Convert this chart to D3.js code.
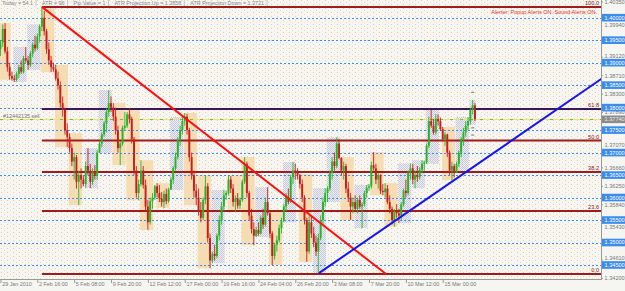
<!DOCTYPE html>
<html><head><meta charset="utf-8">
<script src="https://cdn.jsdelivr.net/npm/d3@7"></script>
<style>
html,body{margin:0;padding:0;background:#f5f5f1;overflow:hidden}
svg{display:block}
text{font-family:"Liberation Sans",Arial,sans-serif}
</style>
</head><body>
<svg id="c" width="625" height="291"></svg>
<script>
// ---------- DATA (4H bars, 29 Jan 2010 04:00 .. 17 Mar 2010 08:00) ----------
const openP=[1.3930,1.3945,1.3975,1.3925,1.3890,1.3870,1.3865,1.3862,1.3875,1.3890,1.3880,1.3910,1.3905,1.3895,1.3920,1.3940,1.3932,1.3958,1.3980,1.4000,
1.3970,1.3930,1.3905,1.3890,1.3885,1.3865,1.3850,1.3810,1.3795,1.3750,1.3735,1.3710,1.3680,1.3690,1.3635,1.3650,1.3640,1.3630,1.3670,1.3660,
1.3635,1.3658,1.3648,1.3700,1.3720,1.3740,1.3765,1.3790,1.3810,1.3800,1.3780,1.3750,1.3710,1.3720,1.3755,1.3760,1.3785,1.3775,1.3730,1.3660,
1.3610,1.3630,1.3660,1.3628,1.3580,1.3545,1.3592,1.3600,1.3625,1.3610,1.3598,1.3590,1.3608,1.3592,1.3618,1.3640,1.3665,1.3690,1.3728,1.3750,
1.3770,1.3780,1.3750,1.3690,1.3650,1.3615,1.3600,1.3570,1.3555,1.3595,1.3625,1.3510,1.3460,1.3475,1.3470,1.3515,1.3550,1.3580,1.3605,1.3610,
1.3640,1.3620,1.3590,1.3598,1.3582,1.3595,1.3635,1.3675,1.3610,1.3560,1.3530,1.3515,1.3528,1.3520,1.3555,1.3540,1.3590,1.3565,1.3520,1.3470,
1.3495,1.3505,1.3532,1.3548,1.3580,1.3600,1.3590,1.3645,1.3660,1.3655,1.3650,1.3630,1.3600,1.3550,1.3480,1.3545,1.3520,1.3500,1.3480,1.3510,
1.3550,1.3590,1.3610,1.3620,1.3655,1.3680,1.3670,1.3720,1.3688,1.3660,1.3670,1.3620,1.3600,1.3580,1.3590,1.3575,1.3595,1.3580,1.3585,1.3610,
1.3622,1.3625,1.3672,1.3665,1.3640,1.3650,1.3615,1.3612,1.3620,1.3590,1.3575,1.3550,1.3570,1.3565,1.3560,1.3585,1.3615,1.3610,1.3655,1.3665,
1.3640,1.3650,1.3645,1.3662,1.3675,1.3678,1.3715,1.3770,1.3760,1.3745,1.3775,1.3770,1.3752,1.3730,1.3740,1.3700,1.3660,1.3670,1.3655,1.3675,
1.3700,1.3730,1.3745,1.3760,1.3770,1.3795,1.3805];
const highP=[1.3950,1.3985,1.3988,1.3935,1.3900,1.3880,1.3872,1.3880,1.3895,1.3905,1.3915,1.3935,1.3915,1.3925,1.3945,1.3960,1.3965,1.3985,1.4024,1.4015,
1.3975,1.3945,1.3915,1.3900,1.3895,1.3880,1.3858,1.3825,1.3800,1.3765,1.3743,1.3720,1.3700,1.3695,1.3660,1.3665,1.3650,1.3680,1.3710,1.3675,
1.3665,1.3672,1.3705,1.3725,1.3745,1.3770,1.3800,1.3839,1.3825,1.3810,1.3800,1.3760,1.3725,1.3760,1.3790,1.3790,1.3799,1.3780,1.3735,1.3670,
1.3640,1.3683,1.3670,1.3640,1.3595,1.3600,1.3610,1.3628,1.3632,1.3628,1.3612,1.3615,1.3620,1.3622,1.3645,1.3670,1.3700,1.3735,1.3760,1.3779,
1.3788,1.3786,1.3755,1.3700,1.3660,1.3630,1.3620,1.3590,1.3600,1.3650,1.3632,1.3520,1.3480,1.3495,1.3520,1.3560,1.3590,1.3617,1.3615,1.3650,
1.3648,1.3630,1.3605,1.3610,1.3600,1.3640,1.3690,1.3680,1.3615,1.3575,1.3545,1.3535,1.3545,1.3560,1.3575,1.3600,1.3623,1.3568,1.3525,1.3500,
1.3515,1.3540,1.3555,1.3585,1.3610,1.3620,1.3650,1.3679,1.3675,1.3665,1.3652,1.3640,1.3605,1.3555,1.3560,1.3560,1.3535,1.3515,1.3520,1.3560,
1.3600,1.3621,1.3625,1.3660,1.3690,1.3700,1.3734,1.3730,1.3690,1.3680,1.3675,1.3635,1.3610,1.3600,1.3605,1.3600,1.3605,1.3590,1.3615,1.3628,
1.3630,1.3680,1.3701,1.3675,1.3655,1.3652,1.3630,1.3632,1.3628,1.3605,1.3580,1.3575,1.3585,1.3575,1.3590,1.3620,1.3640,1.3660,1.3676,1.3675,
1.3660,1.3670,1.3668,1.3683,1.3682,1.3720,1.3780,1.3795,1.3775,1.3785,1.3785,1.3778,1.3757,1.3745,1.3742,1.3705,1.3680,1.3675,1.3680,1.3705,
1.3735,1.3755,1.3770,1.3779,1.3800,1.3817,1.3810];
const lowP=[1.3915,1.3935,1.3920,1.3880,1.3862,1.3860,1.3857,1.3858,1.3866,1.3875,1.3876,1.3900,1.3884,1.3890,1.3912,1.3925,1.3928,1.3945,1.3970,1.3960,
1.3920,1.3895,1.3879,1.3880,1.3860,1.3840,1.3800,1.3780,1.3740,1.3712,1.3700,1.3670,1.3640,1.3620,1.3583,1.3620,1.3625,1.3622,1.3650,1.3621,
1.3628,1.3640,1.3640,1.3699,1.3712,1.3735,1.3745,1.3780,1.3790,1.3770,1.3740,1.3700,1.3672,1.3715,1.3750,1.3755,1.3765,1.3720,1.3650,1.3600,
1.3594,1.3625,1.3620,1.3570,1.3528,1.3540,1.3575,1.3595,1.3600,1.3590,1.3580,1.3577,1.3585,1.3588,1.3617,1.3630,1.3660,1.3685,1.3715,1.3740,
1.3760,1.3740,1.3680,1.3640,1.3600,1.3583,1.3560,1.3545,1.3550,1.3585,1.3500,1.3443,1.3454,1.3460,1.3465,1.3505,1.3540,1.3570,1.3595,1.3605,
1.3610,1.3580,1.3568,1.3575,1.3575,1.3590,1.3630,1.3600,1.3550,1.3520,1.3494,1.3512,1.3515,1.3518,1.3530,1.3535,1.3560,1.3510,1.3450,1.3462,
1.3480,1.3500,1.3520,1.3545,1.3570,1.3585,1.3588,1.3630,1.3640,1.3640,1.3620,1.3590,1.3540,1.3457,1.3475,1.3510,1.3490,1.3470,1.3432,1.3505,
1.3540,1.3580,1.3590,1.3615,1.3640,1.3660,1.3665,1.3685,1.3650,1.3640,1.3610,1.3590,1.3550,1.3565,1.3570,1.3565,1.3575,1.3532,1.3580,1.3600,
1.3615,1.3620,1.3660,1.3630,1.3620,1.3608,1.3605,1.3600,1.3585,1.3565,1.3540,1.3535,1.3555,1.3543,1.3550,1.3580,1.3600,1.3605,1.3640,1.3630,
1.3621,1.3635,1.3640,1.3655,1.3660,1.3675,1.3710,1.3755,1.3740,1.3740,1.3760,1.3748,1.3725,1.3715,1.3690,1.3650,1.3639,1.3645,1.3654,1.3668,
1.3690,1.3715,1.3735,1.3750,1.3762,1.3785,1.3770];
const closeP=[1.3945,1.3975,1.3925,1.3890,1.3870,1.3865,1.3862,1.3875,1.3890,1.3880,1.3910,1.3905,1.3895,1.3920,1.3940,1.3932,1.3958,1.3980,1.4000,1.3970,
1.3930,1.3905,1.3890,1.3885,1.3865,1.3850,1.3810,1.3795,1.3750,1.3735,1.3710,1.3680,1.3690,1.3635,1.3650,1.3640,1.3630,1.3670,1.3660,1.3635,
1.3658,1.3648,1.3700,1.3720,1.3740,1.3765,1.3790,1.3810,1.3800,1.3780,1.3750,1.3710,1.3720,1.3755,1.3760,1.3785,1.3775,1.3730,1.3660,1.3610,
1.3630,1.3660,1.3628,1.3580,1.3545,1.3592,1.3600,1.3625,1.3610,1.3598,1.3590,1.3608,1.3592,1.3618,1.3640,1.3665,1.3690,1.3728,1.3750,1.3770,
1.3780,1.3750,1.3690,1.3650,1.3615,1.3600,1.3570,1.3555,1.3595,1.3625,1.3510,1.3460,1.3475,1.3470,1.3515,1.3550,1.3580,1.3605,1.3610,1.3640,
1.3620,1.3590,1.3598,1.3582,1.3595,1.3635,1.3675,1.3610,1.3560,1.3530,1.3515,1.3528,1.3520,1.3555,1.3540,1.3590,1.3565,1.3520,1.3470,1.3495,
1.3505,1.3532,1.3548,1.3580,1.3600,1.3590,1.3645,1.3660,1.3655,1.3650,1.3630,1.3600,1.3550,1.3480,1.3545,1.3520,1.3500,1.3480,1.3510,1.3550,
1.3590,1.3610,1.3620,1.3655,1.3680,1.3670,1.3720,1.3688,1.3660,1.3670,1.3620,1.3600,1.3580,1.3590,1.3575,1.3595,1.3580,1.3585,1.3610,1.3622,
1.3625,1.3672,1.3665,1.3640,1.3650,1.3615,1.3612,1.3620,1.3590,1.3575,1.3550,1.3570,1.3565,1.3560,1.3585,1.3615,1.3610,1.3655,1.3665,1.3640,
1.3650,1.3645,1.3662,1.3675,1.3678,1.3715,1.3770,1.3760,1.3745,1.3775,1.3770,1.3752,1.3730,1.3740,1.3700,1.3660,1.3670,1.3655,1.3675,1.3700,
1.3730,1.3745,1.3760,1.3770,1.3795,1.3805,1.3774];
// bars per trading day (Fri 29 Jan partial ... Wed 17 Mar partial)
const dayBars=[5,1,6,6,6,6,6,1,6,6,6,6,6,1,6,6,6,6,6,1,6,6,6,6,6,1,6,6,6,6,6,1,6,6,6,6,6,1,6,6,3];
const timeLabels=["29 Jan 2010","2 Feb 16:00","5 Feb 08:00","9 Feb 20:00","12 Feb 12:00","17 Feb 00:00","19 Feb 16:00","24 Feb 04:00","26 Feb 20:00","3 Mar 08:00","7 Mar 20:00","10 Mar 12:00","15 Mar 00:00"];
const timeLabelBars=[0,16,32,48,64,80,96,112,128,144,160,176,192];
// price-scale labels visible in the reference (those fully covered by line labels omitted)
const priceTicks=[1.4035,1.3994,1.3912,1.3871,1.3830,1.3789,1.3707,1.3666,1.3625,1.3584,1.3543,1.3461,1.3420];
const lineLevels=[1.400,1.395,1.390,1.385,1.380,1.375,1.370,1.365,1.360,1.355,1.350,1.345];
const fibLevels=[0,23.6,38.2,50,61.8,100];
const fibHigh=1.4024, fibLow=1.3430, fibStartBar=18;
const orderPrice=1.3774, orderLabel="#12442135 sell";
const downTrend=[{bar:18,price:1.4024},{bar:167.4,price:1.3430}];
const upTrend=[{bar:138.3,price:1.3432},{bar:243,price:1.3801}];
const headerItems=["Today = 54.1","ATR = 96","Pip Value = 1","ATR Projection Up = 1.3858","ATR Projection Down = 1.3721"];
const alertText="Alerter:  Popup Alerts ON.  Sound Alerts ON.";
const markerPrices=[1.3834,1.3755,1.3739];
const markerBar=205;

// ---------- LAYOUT ----------
const W=625,H=291,plotR=601,plotB=279;
const svg=d3.select("#c");
const x=d3.scaleLinear().domain([0,192]).range([0.45,442.7]);
const y=d3.scaleLinear().domain([1.345,1.400]).range([265,17.7]);

const defs=svg.append("defs");
const dots=defs.append("pattern").attr("id","dots").attr("width",6).attr("height",4).attr("patternUnits","userSpaceOnUse");
dots.append("rect").attr("width",6).attr("height",4).attr("fill","#f5f5f1");
dots.append("rect").attr("x",1).attr("y",0).attr("width",1).attr("height",1).attr("fill","#f0c9a0");
dots.append("rect").attr("x",4).attr("y",2).attr("width",1).attr("height",1).attr("fill","#f3d9bd");
const chk=defs.append("pattern").attr("id","chk").attr("width",2).attr("height",2).attr("patternUnits","userSpaceOnUse");
chk.append("rect").attr("width",2).attr("height",2).attr("fill","#ececf3");
chk.append("rect").attr("width",1).attr("height",1).attr("fill","#c9c9da");
chk.append("rect").attr("x",1).attr("y",1).attr("width",1).attr("height",1).attr("fill","#c9c9da");
defs.append("clipPath").attr("id","clip").append("rect").attr("x",0).attr("y",0).attr("width",plotR).attr("height",plotB);

svg.append("rect").attr("width",W).attr("height",H).attr("fill","#f5f5f1");
svg.append("rect").attr("width",plotR).attr("height",plotB).attr("fill","url(#dots)");

const plot=svg.append("g").attr("clip-path","url(#clip)");

// daily range boxes
const days=[];let s=0;
dayBars.forEach(n=>{const e=s+n-1;
  days.push({s,e,hi:d3.max(highP.slice(s,e+1)),lo:d3.min(lowP.slice(s,e+1)),up:closeP[e]>=openP[s]});s+=n;});
plot.selectAll("rect.day").data(days).join("rect").attr("class","day")
  .attr("x",d=>x(d.s)-0.8).attr("width",d=>x(d.e)-x(d.s)+1.6)
  .attr("y",d=>y(d.hi)).attr("height",d=>y(d.lo)-y(d.hi))
  .attr("fill",d=>d.up?"url(#chk)":"#f6dcb3");

// grid lines (horizontal line objects)
plot.selectAll("line.grid").data(lineLevels).join("line").attr("class","grid")
  .attr("x1",0).attr("x2",plotR).attr("y1",d=>Math.round(y(d))+0.5).attr("y2",d=>Math.round(y(d))+0.5)
  .attr("stroke","#3d8ff0").attr("stroke-width",1).attr("stroke-dasharray","2,2");

// fibonacci
const fibPrice=l=>fibLow+(fibHigh-fibLow)*l/100;
plot.selectAll("line.fib").data(fibLevels).join("line").attr("class","fib")
  .attr("x1",x(fibStartBar)).attr("x2",plotR).attr("y1",d=>y(fibPrice(d))).attr("y2",d=>y(fibPrice(d)))
  .attr("stroke",d=>d===61.8?"#3c1858":"#9e1c1c").attr("stroke-width",2);
plot.selectAll("text.fib").data(fibLevels).join("text").attr("class","fib")
  .attr("x",599).attr("y",d=>y(fibPrice(d))-1.8).attr("text-anchor","end")
  .attr("font-size",5.6).attr("fill","#8b2020").text(d=>d.toFixed(1));

// order line
const oy=Math.round(y(orderPrice))+0.5;
plot.append("line").attr("x1",0).attr("x2",plotR).attr("y1",oy).attr("y2",oy).attr("stroke","#f0e27a").attr("stroke-width",1);
plot.append("line").attr("x1",0).attr("x2",plotR).attr("y1",oy).attr("y2",oy).attr("stroke","#6fbf40").attr("stroke-width",1).attr("stroke-dasharray","3,7");
plot.append("text").attr("x",3).attr("y",oy-2).attr("font-size",5.4).attr("fill","#777").text(orderLabel);

// candles
const bars=d3.range(openP.length).map(i=>({i,o:openP[i],h:highP[i],l:lowP[i],c:closeP[i]}));
const col=d=>d.c>=d.o?"#27b227":"#c81d1d";
plot.selectAll("line.wick").data(bars).join("line").attr("class","wick")
  .attr("x1",d=>x(d.i)).attr("x2",d=>x(d.i)).attr("y1",d=>y(d.h)).attr("y2",d=>y(d.l))
  .attr("stroke",col).attr("stroke-width",0.9);
plot.selectAll("rect.body").data(bars).join("rect").attr("class","body")
  .attr("x",d=>x(d.i)-0.95).attr("width",1.9)
  .attr("y",d=>y(Math.max(d.o,d.c))).attr("height",d=>Math.max(0.8,Math.abs(y(d.o)-y(d.c))))
  .attr("fill",col);

// markers near last bar
plot.selectAll("line.mk").data(markerPrices).join("line").attr("class","mk")
  .attr("x1",x(markerBar)-1.5).attr("x2",x(markerBar)+1.5).attr("y1",d=>y(d)).attr("y2",d=>y(d))
  .attr("stroke","#555").attr("stroke-width",0.8);

// trend lines
const line=d3.line().x(d=>x(d.bar)).y(d=>y(d.price));
plot.append("path").attr("d",line(downTrend)).attr("stroke","#ff1010").attr("stroke-width",2).attr("fill","none");
const slope=(upTrend[1].price-upTrend[0].price)/(upTrend[1].bar-upTrend[0].bar);
const endBar=x.invert(plotR+2);
const upExt=[upTrend[0],{bar:endBar,price:upTrend[0].price+slope*(endBar-upTrend[0].bar)}];
plot.append("path").attr("d",line(upExt)).attr("stroke","#1414f0").attr("stroke-width",2).attr("fill","none");

// header
let hx=2;
const hg=svg.append("g");
headerItems.forEach((t,k)=>{
  const tx=hg.append("text").attr("x",hx).attr("y",5.2).attr("font-size",5.4).attr("fill","#8a8a8a").text(t);
  const w=tx.node().getComputedTextLength();
  hx+=w+6;
  hg.append("line").attr("x1",hx-3).attr("x2",hx-3).attr("y1",0).attr("y2",6).attr("stroke","#c8c8c8").attr("stroke-width",1);
  hx+=3;
});
svg.append("text").attr("x",597).attr("y",14).attr("text-anchor","end").attr("font-size",5.5).attr("fill","#e83030").text(alertText);

// right axis (labels next to line labels are nudged so they are not covered)
const boxHalf=3.8, txtHalf=3.3;
const tickY=d=>{
  let yy=y(d);
  lineLevels.concat([orderPrice]).forEach(p=>{const dy=yy-y(p);
    if(Math.abs(dy)<boxHalf+txtHalf) yy=y(p)+(dy>=0?1:-1)*(boxHalf+txtHalf);});
  return yy;};
const ra=svg.append("g").attr("transform",`translate(${plotR},0)`);
const tk=ra.selectAll("g").data(priceTicks).join("g").attr("transform",d=>`translate(0,${y(d)})`);
tk.append("line").attr("x1",0).attr("x2",2).attr("stroke","#999");
ra.selectAll("text.pt").data(priceTicks).join("text").attr("class","pt")
  .attr("x",3.5).attr("y",d=>tickY(d)).attr("dy","0.35em")
  .attr("font-size",5.6).attr("fill","#7a7a7a").text(d3.format(".5f"));
svg.append("line").attr("x1",plotR+0.5).attr("x2",plotR+0.5).attr("y1",0).attr("y2",plotB+1).attr("stroke","#9a9a9a");
const hl=svg.append("g").selectAll("g").data(lineLevels).join("g").attr("transform",d=>`translate(${plotR+1},${y(d)})`);
hl.append("rect").attr("x",0).attr("y",-boxHalf).attr("width",24).attr("height",boxHalf*2).attr("fill","#3b8ceb");
hl.append("text").attr("x",2.5).attr("dy","0.35em").attr("font-size",5.6).attr("fill","#fff").text(d=>d.toFixed(5));
const og=svg.append("g").attr("transform",`translate(${plotR+1},${y(orderPrice)})`);
og.append("rect").attr("x",0).attr("y",-boxHalf).attr("width",24).attr("height",boxHalf*2).attr("fill","#8c8c8c");
og.append("text").attr("x",2.5).attr("dy","0.35em").attr("font-size",5.6).attr("fill","#e8e8e8").text(orderPrice.toFixed(5));

// bottom axis
const ba=svg.append("g").attr("transform",`translate(0,${plotB})`)
  .call(d3.axisBottom(x).tickValues(timeLabelBars).tickFormat((d,k)=>timeLabels[k]).tickSize(4).tickPadding(2));
ba.select(".domain").attr("stroke","#9a9a9a").attr("d",`M0,0.5H${plotR}`);
ba.selectAll("line").attr("stroke","#999");
ba.selectAll("text").attr("text-anchor","start").attr("dx","1.2").attr("dy","0.2em").attr("font-size",5.4).attr("fill","#7a7a7a").attr("font-family","Liberation Sans, Arial, sans-serif");
</script>
</body></html>
